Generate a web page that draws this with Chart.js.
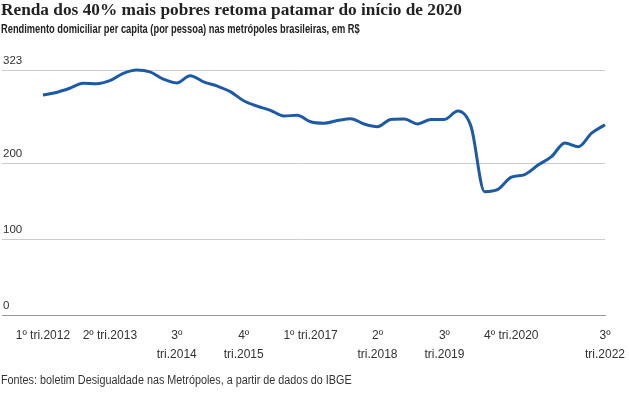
<!DOCTYPE html>
<html>
<head>
<meta charset="utf-8">
<script src="https://cdn.jsdelivr.net/npm/chart.js@4"></script>
<style>
  body { margin: 0; background: #fff; width: 629px; height: 397px; overflow: hidden; position: relative; }
  #title { position: absolute; left: 1px; top: 0px; font: bold 17.3px "Liberation Serif", serif; color: #222; white-space: nowrap; }
  #subtitle { position: absolute; left: 1px; top: 22px; font: bold 12px "Liberation Sans", sans-serif; color: #222; white-space: nowrap; transform: scaleX(0.775); transform-origin: 0 0; }
  #footer { position: absolute; left: 1px; top: 373px; font: 12px "Liberation Sans", sans-serif; color: #333; white-space: nowrap; transform: scaleX(0.9); transform-origin: 0 0; }
  #wrap { position: absolute; left: 0; top: 0; width: 629px; height: 397px; }
</style>
</head>
<body>
<div id="wrap"><canvas id="chart"></canvas></div>
<div id="title">Renda dos 40% mais pobres retoma patamar do início de 2020</div>
<div id="subtitle">Rendimento domiciliar per capita (por pessoa) nas metrópoles brasileiras, em R$</div>
<div id="footer">Fontes: boletim Desigualdade nas Metrópoles, a partir de dados do IBGE</div>
<script>
// trimestres de 1º tri.2012 a 3º tri.2022
const renda = [
  290, 293.5, 299, 305.5, 305, 309, 318.5, 323, 320.5, 311,
  306, 315.5, 307.5, 302, 294.5, 282.5, 275.5, 270, 262.5, 263.5,
  255, 253, 256.5, 259, 252, 248.5, 258, 258.5, 252, 258,
  258, 269, 248, 163, 166, 182, 185.5, 198, 209, 227,
  222, 240, 251
];
const xTickIdx = [0, 5, 10, 15, 20, 25, 30, 35, 42];
const xTickLabels = [
  "1º tri.2012", "2º tri.2013", ["3º", "tri.2014"], ["4º", "tri.2015"],
  "1º tri.2017", ["2º", "tri.2018"], ["3º", "tri.2019"], "4º tri.2020", ["3º", "tri.2022"]
];
const yTicks = [0, 100, 200, 323];

const tickFamily = "'Liberation Sans', sans-serif";

new Chart(document.getElementById("chart"), {
  type: "line",
  data: {
    datasets: [{
      data: renda.map((v, i) => ({ x: i, y: v })),
      borderColor: "#1c5aa6",
      borderWidth: 3,
      pointRadius: 0,
      cubicInterpolationMode: "monotone",
      clip: false,
    }],
  },
  options: {
    responsive: true,
    maintainAspectRatio: false,
    animation: false,
    layout: { padding: { top: 70, left: 0, right: 24, bottom: 31 } },
    plugins: { legend: { display: false }, tooltip: { enabled: false } },
    scales: {
      x: {
        type: "linear",
        min: -3.059,
        max: 42,
        grid: { display: false },
        border: { display: true, color: "#999", width: 1 },
        afterBuildTicks: (s) => { s.ticks = xTickIdx.map((v) => ({ value: v })); },
        ticks: {
          padding: 2,
          color: "#333",
          font: { family: tickFamily, size: 12, lineHeight: 1.6 },
          maxRotation: 0,
          autoSkip: false,
          callback: (v) => xTickLabels[xTickIdx.indexOf(v)],
        },
      },
      y: {
        min: 0,
        max: 323,
        grid: {
          drawTicks: false,
          color: (ctx) => (ctx.tick && ctx.tick.value === 0 ? "#999" : "#cccccc"),
        },
        border: { display: false },
        afterBuildTicks: (s) => { s.ticks = yTicks.map((v) => ({ value: v })); },
        ticks: {
          mirror: true,
          padding: 1,
          labelOffset: -9.5,
          color: "#333",
          font: { family: tickFamily, size: 11.5 },
        },
      },
    },
  },
});
</script>
</body>
</html>
